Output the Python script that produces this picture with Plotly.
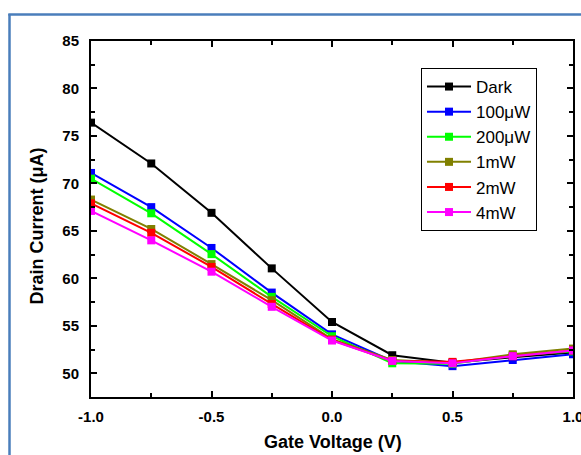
import plotly.graph_objects as go

gate_voltage = [-1.0, -0.75, -0.5, -0.25, 0.0, 0.25, 0.5, 0.75, 1.0]
series_names = ["Dark", "100μW", "200μW", "1mW", "2mW", "4mW"]
dark = [76.4, 72.1, 66.9, 61.05, 55.4, 51.9, 51.1, 51.7, 52.2]
uw100 = [71.1, 67.5, 63.2, 58.5, 54.1, 51.3, 50.75, 51.4, 52.0]
uw200 = [70.5, 66.85, 62.55, 58.05, 53.9, 51.05, 51.0, 51.9, 52.3]
mw1 = [68.3, 65.2, 61.5, 57.7, 53.6, 51.4, 51.1, 52.0, 52.6]
mw2 = [67.9, 64.8, 61.2, 57.3, 53.5, 51.3, 51.2, 51.8, 52.4]
mw4 = [67.1, 64.0, 60.7, 57.0, 53.45, 51.3, 51.05, 51.8, 52.4]
series_values = [dark, uw100, uw200, mw1, mw2, mw4]
colors = ["#000000", "#0000FF", "#00FF00", "#808000", "#FF0000", "#FF00FF"]

x_ticks = [-1.0, -0.5, 0.0, 0.5, 1.0]
x_ticklabels = ["-1.0", "-0.5", "0.0", "0.5", "1.0"]
y_ticks = [50, 55, 60, 65, 70, 75, 80, 85]

FONT = "Liberation Sans, Arial, sans-serif"

fig = go.Figure()
for name, vals, c in zip(series_names, series_values, colors):
    fig.add_trace(go.Scatter(
        x=gate_voltage, y=vals, name=name, mode="lines+markers",
        line=dict(color=c, width=2),
        marker=dict(symbol="square", size=8, color=c),
    ))

W, H = 581, 455
L, R, T, B = 91, 8, 41, 58
pw, ph = W - L - R, H - T - B

def px(xp):
    return (xp - L) / pw

def py(yp):
    return 1 - (yp - T) / ph

axis_common = dict(
    showline=True, linecolor="black", linewidth=2, mirror="allticks",
    ticks="inside", ticklen=6, tickwidth=2, tickcolor="black",
    showgrid=False, zeroline=False, automargin=False,
    ticklabeloverflow="allow",
    tickfont=dict(family=FONT, size=15, color="black", weight="bold"),
)

fig.update_xaxes(
    range=[-1.0, 1.0], tickvals=x_ticks, ticktext=x_ticklabels,
    minor=dict(ticks="inside", ticklen=4, tickwidth=2, tickcolor="black", dtick=0.25, tick0=-1.0),
    ticklabelstandoff=5,
    **axis_common,
)
fig.update_yaxes(
    range=[47.5, 85], tickvals=y_ticks,
    minor=dict(ticks="inside", ticklen=4, tickwidth=2, tickcolor="black", dtick=2.5, tick0=47.5),
    ticklabelstandoff=7,
    **axis_common,
)

title_font = dict(family=FONT, size=18, color="black", weight="bold")

fig.update_layout(
    width=W, height=H,
    margin=dict(l=L, r=R, t=T, b=B),
    paper_bgcolor="white", plot_bgcolor="white",
    font=dict(family=FONT, color="black"),
    legend=dict(
        x=px(421), y=py(68), xanchor="left", yanchor="top",
        bordercolor="black", borderwidth=1, bgcolor="white",
        font=dict(family=FONT, size=17, color="black"),
        tracegroupgap=0, itemwidth=44,
    ),
    showlegend=True,
    annotations=[
        dict(text="Gate Voltage (V)", xref="paper", yref="paper", x=px(332.5), y=py(442),
             xanchor="center", yanchor="middle", showarrow=False, font=title_font),
        dict(text="Drain Current (μA)", xref="paper", yref="paper", x=px(36.5), y=py(226),
             xanchor="center", yanchor="middle", showarrow=False, textangle=-90, font=title_font),
    ],
    shapes=[
        dict(type="line", xref="paper", yref="paper", x0=px(9.5), x1=px(9.5), y0=py(14), y1=py(470),
             line=dict(color="#4A7EBB", width=2.5)),
        dict(type="line", xref="paper", yref="paper", x0=px(8.3), x1=px(600), y0=py(14.5), y1=py(14.5),
             line=dict(color="#4A7EBB", width=2.5)),
    ],
)

fig.write_html("out.html", config={"displayModeBar": False},
               post_script="document.body.style.margin='0';")
